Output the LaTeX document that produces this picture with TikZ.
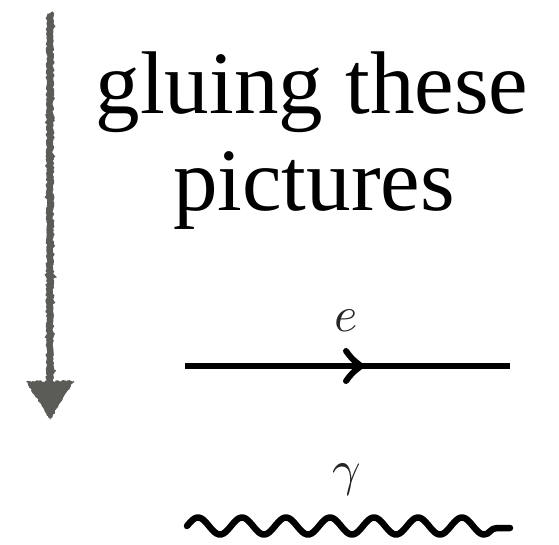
\documentclass[tikz,border=0pt]{standalone}
\usepackage{fontspec}
\setmainfont{Liberation Serif}
\usetikzlibrary{decorations.pathmorphing}
\definecolor{chalk}{HTML}{5B5B58}
\tikzset{
  rough/.style={decorate,decoration={random steps,segment length=1.6pt,amplitude=0.9pt}},
  bigtext/.style={anchor=base,inner sep=0pt,font=\fontsize{89}{96}\selectfont},
  lbl/.style={anchor=base,inner sep=0pt,scale=5,text=black!85},
  fermion/.style={line width=6.5pt,black},
  photon/.style={line width=6.5pt,black,line join=round,line cap=round}
}
\begin{document}
\begin{tikzpicture}[x=1pt,y=-1pt]
\useasboundingbox (0,0) rectangle (559,544);
% rough grey arrow
\coordinate (atop) at (50,13);
\coordinate (abot) at (50,386);
\draw[chalk,line width=6.5pt,rough] (atop) -- (abot);
\coordinate (h1) at (26,381);
\coordinate (h2) at (74,381);
\coordinate (h3) at (50,420);
\fill[chalk,rough] (h1) -- (h2) -- (h3) -- cycle;
% text
\node[bigtext] (t1) at (312,113) {gluing these};
\node[bigtext] (t2) at (314,210) {pictures};
% electron line
\coordinate (e1) at (185,366);
\coordinate (e2) at (510,366);
\draw[fermion] (e1) -- (e2);
\coordinate (c1) at (346,351);
\coordinate (c2) at (361,366);
\coordinate (c3) at (346,381);
\draw[line width=6pt,line cap=round,line join=miter] (c1) .. controls (352,359) .. (c2) .. controls (352,373) .. (c3);
\node[lbl] (le) at (346,331) {$e$};
% photon
\coordinate (p0) at (187,526);
\coordinate (pend) at (497,528);
\coordinate (p1) at (510,528);
\draw[photon] plot[domain=187:484,samples=200] (\x,{526-8.5*sin(8.181818*(\x-187))}) .. controls (490,534.5) and (490,528) .. (pend) -- (p1);
\node[lbl] (lg) at (347,485) {$\gamma$};
\end{tikzpicture}
\end{document}
